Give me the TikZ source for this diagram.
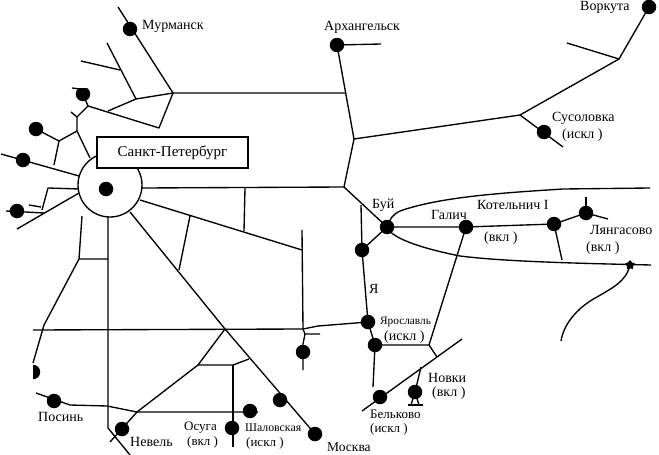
\documentclass[tikz,border=0pt]{standalone}
\usepackage{fontspec}
\setmainfont{Liberation Serif}
\usetikzlibrary{shapes.geometric}
\tikzset{
  rail/.style={line width=1.35pt,line join=round},
  st/.style={circle,fill=black,minimum size=14.5pt,inner sep=0pt,outer sep=0pt},
  lb/.style={inner sep=0pt,font=\fontsize{14}{15}\selectfont},
}
\begin{document}
\begin{tikzpicture}[x=1pt,y=-1pt]
\useasboundingbox (0,0) rectangle (659,455);
% junctions
\foreach \n/\p in {
 a/{118,7},b/{173,93},c/{107,43},d/{136,99},e/{81,61},f/{120,70},g/{108,111},h/{72,88},
 i/{88,106},j/{159,128},k/{77,117},l/{71,112},m/{77,131},n/{59,141},o/{90,158},q/{54,165},
 r/{1,154},s/{79,176},t/{79,189},u/{48,188},v/{42,210},w/{79,193},x/{17,229},y/{6,211},
 z/{44,213},aa/{29,205},ab/{41,207},ac/{142,188},ad/{344,187},ae/{346,93},
 ba/{82,216},bb/{79,259},bc/{108,217},bd/{108,259},be/{108,428},bf/{130,455},bg/{44,325},
 bh/{33,363},ca/{33,330},cb/{303,329},cc/{318,326},cd/{305,334},ce/{320,334},cf/{303,344},
 cg/{303,370},ch/{302,230},ci/{302,250},cj/{140,200},cl/{190,216},cm/{179,270},
 cn/{245,188},cp/{130,212},cq/{225,329},da/{198,365},db/{137,412},dc/{110,442},
 dd/{233,365},de/{249,359},df/{233,447},dg/{258,412},di/{36,393},dj/{70,405},dk/{107,406},
 dl/{244,231},
 ea/{381,44},eb/{354,139},ec/{520,115},ed/{619,59},ee/{567,43},ef/{563,147},eg/{361,205},
 eh/{586,197},ei/{608,219},ej/{562,260},ek/{429,345},el/{437,357},em/{462,339},en/{362,411},
 eo/{421,367},ep/{373,387},eq/{408,405},er/{423,405},es/{561,341},et/{630,265},eu/{651,265}}
{\coordinate (\n) at (\p);}
% main lines
\draw[rail] (a)--(b)--(ae);
\draw[rail] (c)--(d)--(b)--(j)--(i);
\draw[rail] (e)--(f);
\draw[rail] (d)--(g);
\draw[rail] (83,94)--(i)--(k)--(l);
\draw[rail] (k)--(m)--(n)--(36,129);
\draw[rail] (m)--(o);
\draw[rail] (n)--(q);
\draw[rail] (r)--(s);
\draw[rail] (t)--(u)--(v);
\draw[rail] (w)--(x);
\draw[rail] (y)--(z);
\draw[rail] (aa)--(ab);
\draw[rail] (ac)--(ad);
\draw[rail] (ba)--(bb)--(bd);
\draw[rail] (bc)--(be)--(bf);
\draw[rail] (bb)--(bg)--(bh);
\draw[rail] (ca)--(cb)--(cc)--(368,322);
\draw[rail] (cb)--(cd)--(ce);
\draw[rail] (cd)--(cf)--(cg);
\draw[rail] (ch)--(cb);
\draw[rail] (cj)--(ci);
\draw[rail] (cl)--(cm);
\draw[rail] (cn)--(dl);
\draw[rail] (cp)--(cq)--(315,434);
\draw[rail] (cq)--(da)--(db)--(dc);
\draw[rail] (da)--(dd)--(de);
\draw[rail] (dd)--(df);
\draw[rail] (di)--(dj)--(dk)--(db)--(dg);
% east
\draw[rail] (ea)--(337,45)--(eb)--(ad);
\draw[rail] (eb)--(ec)--(ed)--(649,7);
\draw[rail] (ed)--(ee);
\draw[rail] (ec)--(ef);
\draw[rail] (ad)--(387,227)--(362,250);
\draw[rail] (eg)--(362,250)--(368,322)--(375,345)--(ep);
\draw[rail] (387,227)--(466,227)--(554,224)--(586,213)--(ei);
\draw[rail] (eh)--(586,213);
\draw[rail] (554,224)--(ej);
\draw[rail] (466,227)--(ek)--(375,345);
\draw[rail] (ek)--(el);
\draw[rail] (em)--(en);
\draw[rail] (eo)--(415,392);
\draw[rail] (eq)--(er);
\draw[rail] (415,392)--(411,405);
\draw[rail] (415,392)--(419,405);
\draw[rail] (387,227) .. controls (390,219) and (392,215) .. (400,211)
  .. controls (440,197) and (500,193) .. (563,189) -- (650,188);
\draw[rail] (387,227) .. controls (391,238) and (420,248) .. (460,256)
  .. controls (500,261) and (560,263) .. (eu);
\draw[rail] (es) .. controls (564,322) and (580,306) .. (597,297)
  .. controls (612,288) and (626,282) .. (et);
% hub
\draw[rail,fill=white] (110,185) circle (32);
\node[star,star points=5,fill=black,minimum size=10pt,inner sep=0pt] (tgt) at (630,265) {};
% stations
\foreach \n/\p in {murm/{130,29},s2/{36,129},s3/{23,160},s4/{17,211},spb/{106,189},
 ark/{337,45},vor/{649,7},sus/{544,132},buy/{387,227},gal/{466,227},kot/{554,224},lya/{586,213},
 j1/{362,250},yar/{368,322},j2/{375,345},bel/{380,397},nov/{415,392},j3/{303,352},
 mos/{315,434},j4/{280,400},sha/{250,411},osu/{232,428},nev/{122,429},pos/{54,401}}
{\node[st] (\n) at (\p) {};}
\begin{scope}\clip (33,360) rectangle (50,385);\node[st] (s5) at (33,372) {};\end{scope}
\begin{scope}\clip (70,88) rectangle (95,105);\node[st] (s1) at (83,94) {};\end{scope}
\draw[rail] (h)--(80,89);
% box
\node[draw,line width=1.35pt,fill=white,minimum width=151pt,minimum height=31pt,inner sep=0pt,
 font=\fontsize{15}{16}\selectfont] (box) at (172.5,152.5) {Санкт-Петербург};
% labels
\node[lb,anchor=west] (t1) at (142,26) {Мурманск};
\node[lb,anchor=west] (t2) at (324,27) {Архангельск};
\node[lb,anchor=west] (t3) at (580,7) {Воркута};
\node[lb,anchor=west] (t4) at (552,118) {Сусоловка};
\node[lb,anchor=west] (t5) at (562,135) {(искл )};
\node[lb,anchor=west] (t6) at (372,205) {Буй};
\node[lb,anchor=west] (t7) at (431,215) {Галич};
\node[lb,anchor=west] (t8) at (477,205) {Котельнич I};
\node[lb,anchor=west] (t9) at (484,238) {(вкл )};
\node[lb,anchor=west] (t10) at (590,230) {Лянгасово};
\node[lb,anchor=west] (t11) at (586,248) {(вкл )};
\node[lb,anchor=west] (t12) at (369,289) {Я};
\node[lb,anchor=west,font=\fontsize{11.3}{12}\selectfont] (t13) at (380,322) {Ярославль};
\node[lb,anchor=west] (t14) at (384,337) {(искл )};
\node[lb,anchor=west] (t15) at (428,378) {Новки};
\node[lb,anchor=west] (t16) at (432,393) {(вкл )};
\node[lb,anchor=west,font=\fontsize{13}{14}\selectfont] (t17) at (370,414) {Бельково};
\node[lb,anchor=west,font=\fontsize{13}{14}\selectfont] (t18) at (370,429) {(искл )};
\node[lb,anchor=west,font=\fontsize{13.5}{14}\selectfont] (t19) at (327,447) {Москва};
\node[lb,anchor=west] (t20) at (38,417) {Посинь};
\node[lb,anchor=west] (t21) at (130,442) {Невель};
\node[lb,anchor=west,font=\fontsize{13}{14}\selectfont] (t22) at (184,428) {Осуга};
\node[lb,anchor=west,font=\fontsize{13}{14}\selectfont] (t23) at (187,442) {(вкл )};
\node[lb,anchor=west,font=\fontsize{11.8}{12}\selectfont] (t24) at (245,428) {Шаловская};
\node[lb,anchor=west,font=\fontsize{13}{14}\selectfont] (t25) at (246,443) {(искл )};
\end{tikzpicture}
\end{document}
